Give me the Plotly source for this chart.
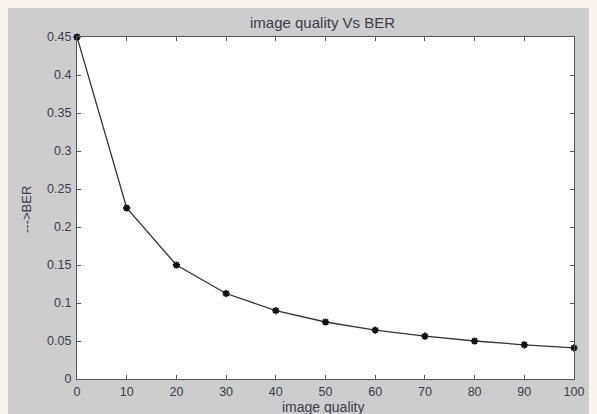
import plotly.graph_objects as go

image_quality = [0, 10, 20, 30, 40, 50, 60, 70, 80, 90, 100]
ber = [0.45, 0.225, 0.15, 0.1125, 0.09, 0.075, 0.0643, 0.0563, 0.05, 0.045, 0.041]

x_ticks = [0, 10, 20, 30, 40, 50, 60, 70, 80, 90, 100]
y_ticks = [0, 0.05, 0.1, 0.15, 0.2, 0.25, 0.3, 0.35, 0.4, 0.45]
y_tick_text = ["0", "0.05", "0.1", "0.15", "0.2", "0.25", "0.3", "0.35", "0.4", "0.45"]

# the page body has an 8px margin, so the figure starts at (8, 8)
W, H = 589, 406
L, R, T, B = 69, 23, 29, 35
pw, ph = W - L - R, H - T - B

def px_to_paper_x(px):
    return (px - L) / pw

def px_to_paper_y(py):
    return (H - B - py) / ph

font_family = "Liberation Sans, Arial, sans-serif"
txt_color = "#3c3c4c"

fig = go.Figure()
fig.add_trace(go.Scatter(
    x=image_quality, y=ber, mode="lines+markers",
    line=dict(color="#333333", width=1.3),
    marker=dict(symbol="asterisk-open", size=6, color="#111111",
                line=dict(color="#111111", width=1.8)),
    showlegend=False, cliponaxis=False,
))

axis_common = dict(
    showgrid=False, zeroline=False, showline=True, mirror="ticks",
    linecolor="#555555", linewidth=1.2, ticks="inside", ticklen=4,
    tickcolor="#555555", tickfont=dict(family=font_family, size=12.5, color=txt_color),
)

fig.update_layout(
    width=W, height=H,
    margin=dict(l=L, r=R, t=T, b=B),
    paper_bgcolor="#cdcdcd", plot_bgcolor="#ffffff",
    xaxis=dict(range=[0, 100], tickvals=x_ticks, ticklabelstandoff=1, **axis_common),
    yaxis=dict(range=[0, 0.45], tickvals=y_ticks, ticktext=y_tick_text,
               ticklabelstandoff=2, **axis_common),
    annotations=[
        dict(text="image quality Vs BER", xref="paper", yref="paper",
             x=px_to_paper_x(314), y=px_to_paper_y(14), xanchor="center", yanchor="middle",
             showarrow=False, font=dict(family=font_family, size=15, color=txt_color)),
        dict(text="image quality", xref="paper", yref="paper",
             x=px_to_paper_x(315), y=px_to_paper_y(398.5), xanchor="center", yanchor="middle",
             showarrow=False, font=dict(family=font_family, size=14, color=txt_color)),
        dict(text="--->BER", xref="paper", yref="paper",
             x=px_to_paper_x(19), y=px_to_paper_y(202), xanchor="center", yanchor="middle",
             textangle=-90, showarrow=False,
             font=dict(family=font_family, size=13, color=txt_color)),
    ],
)

fig.write_html("out.html", post_script="document.body.style.background='#f9f5ee';")
